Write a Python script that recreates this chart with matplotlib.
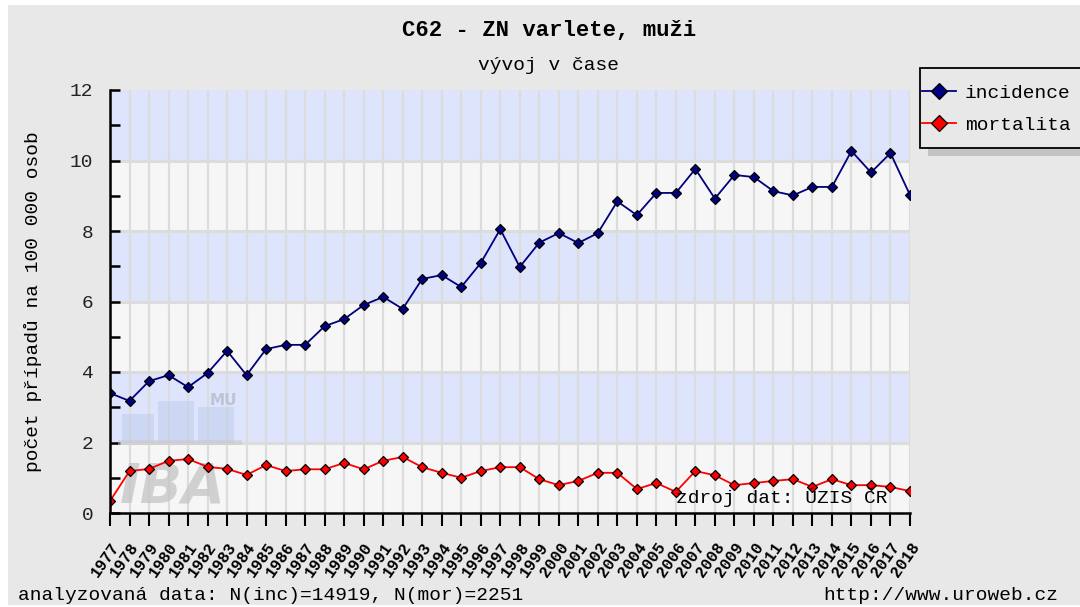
import matplotlib
matplotlib.use("Agg")
import numpy as np
import matplotlib.pyplot as plt
from matplotlib.patches import Rectangle

# data
years = list(range(1977, 2019))
incidence = [3.40, 3.18, 3.74, 3.91, 3.57, 3.97, 4.60, 3.91, 4.65, 4.77,
             4.77, 5.30, 5.50, 5.90, 6.13, 5.79, 6.64, 6.75, 6.41, 7.09,
             8.05, 6.98, 7.67, 7.94, 7.66, 7.94, 8.84, 8.45, 9.08, 9.08,
             9.76, 8.92, 9.59, 9.53, 9.13, 9.01, 9.25, 9.25, 10.27, 9.66,
             10.21, 9.02]
mortality = [0.34, 1.19, 1.25, 1.48, 1.53, 1.31, 1.25, 1.08, 1.36, 1.19,
             1.24, 1.24, 1.42, 1.24, 1.48, 1.59, 1.30, 1.14, 1.00, 1.19,
             1.30, 1.30, 0.96, 0.79, 0.91, 1.14, 1.14, 0.68, 0.85, 0.60,
             1.19, 1.07, 0.79, 0.85, 0.91, 0.96, 0.74, 0.96, 0.79, 0.79,
             0.74, 0.62]
series_names = ["incidence", "mortalita"]
y_ticks = [0, 2, 4, 6, 8, 10, 12]

mono = "Liberation Mono"
bg = "#e8e8e8"
W, H = 1080, 607

def fx(px):
    return px / W

def fy(py):
    return 1 - py / H

fig = plt.figure(figsize=(10.8, 6.07), dpi=100, facecolor="white")
fig.patches.append(Rectangle((fx(8), fy(605)), 1, (600) / H,
                             transform=fig.transFigure, facecolor=bg,
                             edgecolor="none", zorder=-10))

ax = fig.add_axes([fx(110), fy(513), 800 / W, 423 / H])
ax.set_facecolor("#f6f6f6")

# alternating horizontal bands
for lo in range(2, 12, 4):
    ax.axhspan(lo, lo + 2, facecolor="#dde4fc", edgecolor="none", zorder=0)

ax.set_xlim(years[0], years[-1])
ax.set_ylim(0, 12)

for yr in years:
    ax.axvline(yr, color="#dcdcdc", lw=1.6, zorder=1)
for v in y_ticks[1:-1]:
    ax.axhline(v, color="#dcdcdc", lw=2.2, zorder=1)

ax.plot(years, incidence, color="#000080", lw=1.3, marker="D", ms=5.5,
        mfc="#000080", mec="black", mew=0.9, zorder=4, label=series_names[0])
ax.plot(years, mortality, color="red", lw=1.3, marker="D", ms=5.5,
        mfc="red", mec="black", mew=0.9, zorder=4, label=series_names[1])

# watermark
ax.text(0.012, 0.025, "IBA", transform=ax.transAxes, fontsize=40,
        fontweight="bold", style="italic", color="#c4c4c4", alpha=0.75,
        family="DejaVu Sans", zorder=2)
ax.text(0.125, 0.255, "MU", transform=ax.transAxes, fontsize=11,
        fontweight="bold", color="#b4bccc", alpha=0.8, family="DejaVu Sans",
        zorder=2)
for x0, w, h in [(0.015, 0.04, 0.07), (0.06, 0.045, 0.10), (0.11, 0.045, 0.085)]:
    ax.add_patch(Rectangle((x0, 0.165), w, h, transform=ax.transAxes,
                           facecolor="#b4c6e6", alpha=0.4, edgecolor="none",
                           zorder=2))
ax.add_patch(Rectangle((0.01, 0.16), 0.155, 0.012, transform=ax.transAxes,
                       facecolor="#c8c8c8", alpha=0.5, edgecolor="none",
                       zorder=2))

ax.text((888 - 110) / 800, 0.015, "zdroj dat: ÚZIS ČR",
        transform=ax.transAxes, ha="right", va="bottom", fontsize=14,
        family=mono, color="black", zorder=5)

for s in ["top", "right"]:
    ax.spines[s].set_visible(False)
for s in ["left", "bottom"]:
    ax.spines[s].set_linewidth(1.8)
    ax.spines[s].set_zorder(6)

ax.set_yticks(range(0, 13))
ax.set_yticklabels([str(v) if v in y_ticks else "" for v in range(0, 13)],
                   family=mono, fontsize=14, color="#222222")
ax.tick_params(axis="y", direction="in", length=7, width=1.8, pad=12)
ax.set_xticks(years)
ax.set_xticklabels([str(y) for y in years], rotation=55, ha="right",
                   va="top", rotation_mode="anchor", family=mono,
                   fontsize=11.5, fontweight="bold")
ax.tick_params(axis="x", direction="out", length=9, width=1.5, pad=10)

ax.set_ylabel("počet případů na 100 000 osob", family=mono, fontsize=14,
              labelpad=20)

fig.text(fx(549), fy(30), "C62 - ZN varlete, muži", ha="center",
         va="center", family=mono, fontsize=16, fontweight="bold")
fig.text(fx(549), fy(66), "vývoj v čase", ha="center", va="center",
         family=mono, fontsize=14)
fig.text(fx(18), fy(595),
         "analyzovaná data: N(inc)=14919, N(mor)=2251", ha="left",
         va="center", family=mono, fontsize=14)
fig.text(fx(1058), fy(595), "http://www.uroweb.cz", ha="right",
         va="center", family=mono, fontsize=14)

# legend box with shadow, drawn by hand so it can run off the right edge
fig.patches.append(Rectangle((fx(928), fy(156)), 170 / W, 80 / H,
                             transform=fig.transFigure, facecolor="#c4c4c4",
                             edgecolor="none", zorder=1))
fig.patches.append(Rectangle((fx(920), fy(148)), 170 / W, 80 / H,
                             transform=fig.transFigure, facecolor=bg,
                             edgecolor="black", lw=1.3, zorder=2))
leg = fig.legend(loc="center left", bbox_to_anchor=(fx(920), fy(109)),
                 prop={"family": mono, "size": 14}, frameon=False,
                 handlelength=1.75, handletextpad=0.45, borderpad=0.0,
                 labelspacing=0.75, borderaxespad=0.1, markerscale=1.4)
leg.set_zorder(3)

fig.savefig("out.png", dpi=100, facecolor=fig.get_facecolor())
